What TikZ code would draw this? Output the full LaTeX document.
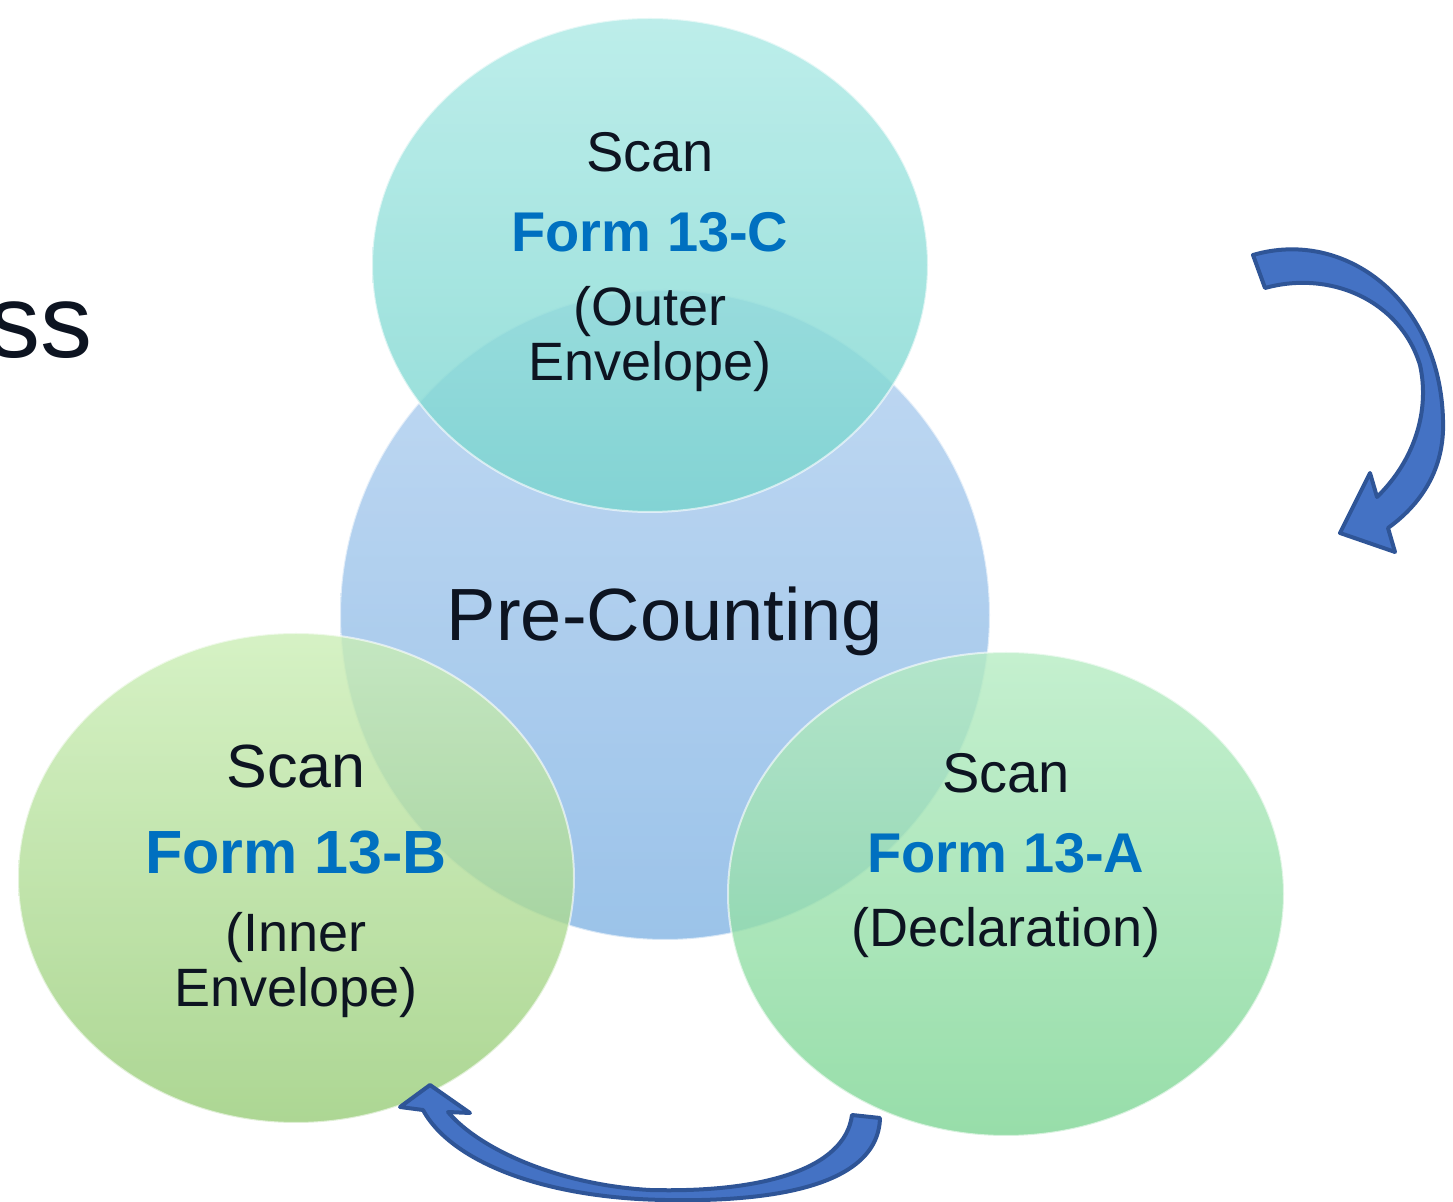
\documentclass[tikz,border=0pt]{standalone}
\usepackage{fontspec}
\setmainfont{Liberation Sans}
\usetikzlibrary{shapes.geometric}

\definecolor{formblue}{HTML}{0070C0}
\definecolor{arrowfill}{HTML}{4472C4}
\definecolor{arrowline}{HTML}{2F5597}
\definecolor{inktext}{HTML}{0D1421}

\begin{document}
\begin{tikzpicture}[x=0.5pt, y=-0.5pt,
    blob/.style={inner sep=0pt, fill opacity=0.8, draw=white, draw opacity=0.6, line width=1pt},
    scantext/.style={text=inktext, font=\fontsize{27}{27}\selectfont, inner sep=0pt},
    formtext/.style={text=formblue, font=\fontsize{28}{28}\selectfont\bfseries, inner sep=0pt},
    turn/.style={draw=arrowline, line width=2pt, line join=round}]
        \useasboundingbox (0,0) rectangle (1453,1202);

        % Cut title
        \node[text=inktext, font=\fontsize{52}{52}\selectfont, anchor=east, inner sep=0pt] (title) at (93,330) {ss};

        % Circles
        \node[blob, circle, minimum size=325pt, top color={rgb,255:red,178;green,208;blue,239}, bottom color={rgb,255:red,130;green,180;blue,228}] (precount) at (665,615) {};
        \node[blob, ellipse, minimum width=278pt, minimum height=247pt, top color={rgb,255:red,172;green,233;blue,229}, bottom color={rgb,255:red,118;green,212;blue,205}] (formC) at (650,265) {};
        \node[blob, ellipse, minimum width=278pt, minimum height=245pt, top color={rgb,255:red,203;green,238;blue,182}, bottom color={rgb,255:red,152;green,204;blue,120}] (formB) at (296,878) {};
        \node[blob, ellipse, minimum width=278pt, minimum height=242pt, top color={rgb,255:red,182;green,236;blue,195}, bottom color={rgb,255:red,125;green,213;blue,148}] (formA) at (1006,894) {};

        % Texts
        \node[text=inktext, font=\fontsize{37}{37}\selectfont, inner sep=0pt] (precountText) at (665,621) {Pre-Counting};

        \node[scantext, font=\fontsize{28}{28}\selectfont] (scanC) at (650,152) {Scan};
        \node[formtext] (nameC) at (650,232) {Form 13-C};
        \node[scantext] (outerC) at (650,312) {(Outer};
        \node[scantext] (envC) at (650,367) {Envelope)};

        \node[scantext, font=\fontsize{30.5}{30.5}\selectfont] (scanB) at (296,767) {Scan};
        \node[formtext, font=\fontsize{30.5}{30.5}\selectfont\bfseries] (nameB) at (296,853) {Form 13-B};
        \node[scantext] (innerB) at (296,938) {(Inner};
        \node[scantext] (envB) at (296,993) {Envelope)};

        \node[scantext, font=\fontsize{28}{28}\selectfont] (scanA) at (1006,773) {Scan};
        \node[formtext] (nameA) at (1006,853) {Form 13-A};
        \node[scantext] (declA) at (1006,933) {(Declaration)};

        % Curved arrows
        \draw[turn, fill=arrowfill] (1253,255) .. controls (1345,228) and (1440,300) .. (1443,420)
            .. controls (1445,470) and (1420,505) .. (1388,528) -- (1395,552) -- (1340,533) -- (1370,473) -- (1377,497)
            .. controls (1415,460) and (1430,410) .. (1420,365) .. controls (1400,300) and (1330,270) .. (1265,288) -- cycle;
        \draw[turn, fill=arrowfill] (880,1118) .. controls (878,1190) and (760,1202) .. (665,1200)
            .. controls (540,1198) and (450,1160) .. (423,1110) -- (400,1107) -- (430,1085) -- (470,1113) -- (448,1112)
            .. controls (480,1150) and (560,1185) .. (650,1190) .. controls (760,1193) and (845,1170) .. (852,1115) -- cycle;
\end{tikzpicture}
\end{document}
